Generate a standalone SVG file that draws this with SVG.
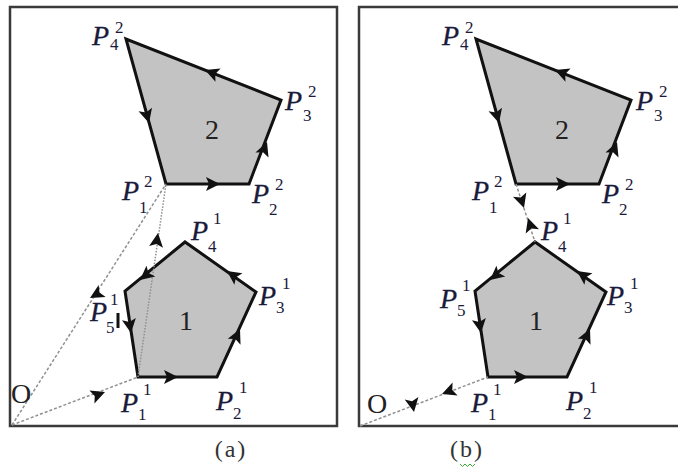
<svg xmlns="http://www.w3.org/2000/svg" width="678" height="468" viewBox="0 0 678 468">
<style>
.frame{fill:none;stroke:#3a3a3a;stroke-width:2.5}
.poly{fill:#c3c3c3;stroke:#111;stroke-width:3;stroke-linejoin:miter}
.dash{fill:none;stroke:#909090;stroke-width:1.5;stroke-dasharray:3 2}
.dot{fill:none;stroke:#909090;stroke-width:1.5;stroke-dasharray:1.5 1.5}
.ah{fill:#111}
.P{font-family:"Liberation Serif","Times New Roman",serif;font-style:italic;font-size:28px;fill:#1a1a3a;stroke:#1a1a3a;stroke-width:0.3}
.d{font-family:"Liberation Serif","Times New Roman",serif;font-size:17px;fill:#1a1a3a}
.n{font-family:"Liberation Serif","Times New Roman",serif;font-size:28px;fill:#222;text-anchor:middle}
.O{font-family:"Liberation Serif","Times New Roman",serif;font-size:28px;fill:#222}
.cap{font-family:"Liberation Serif","Times New Roman",serif;font-size:24px;letter-spacing:2px;fill:#333;text-anchor:middle}
</style>
<defs>
<path id="ah" class="ah" d="M0,0 L-14,-7 L-11,0 L-14,7 Z"/>
</defs>
<rect width="678" height="468" fill="#fff"/>

<g id="panel-a">
<rect class="frame" x="10" y="7" width="327" height="419"/>
<g id="a-poly2">
<polygon class="poly" points="166,184 249,184 281,100 126,39"/>
<text class="n" x="212" y="139">2</text>
</g>
<g id="a-poly1">
<polygon class="poly" points="138,377 217,377 256,292 185,242 125,291"/>
<text class="n" x="186" y="330">1</text>
</g>
<g id="a-connectors">
<path class="dash" d="M12,425 L166,184"/>
<path class="dash" d="M12,425 L138,377"/>
<path class="dot" d="M138,377 L166,184"/>
<use href="#ah" transform="translate(90,298) rotate(150)"/>
<use href="#ah" transform="translate(105,392) rotate(-21)"/>
<use href="#ah" transform="translate(158,233) rotate(-82)"/>
<use href="#ah" transform="translate(220,184) rotate(0)"/>
<use href="#ah" transform="translate(267,142) rotate(-69)"/>
<use href="#ah" transform="translate(205,70) rotate(201.5)"/>
<use href="#ah" transform="translate(149,123) rotate(74.6)"/>
<use href="#ah" transform="translate(178,377) rotate(0)"/>
<use href="#ah" transform="translate(240,329) rotate(-65.4)"/>
<use href="#ah" transform="translate(227,271) rotate(215.2)"/>
<use href="#ah" transform="translate(140,280) rotate(140.8)"/>
<use href="#ah" transform="translate(131,333) rotate(81.4)"/>
<path d="M118,313 L118,328" stroke="#111" stroke-width="3"/>
</g>
<g id="a-labels">
<text class="P" x="92" y="45">P</text><text class="d" x="110" y="50">4</text><text class="d" x="115" y="33">2</text>
<text class="P" x="285" y="110">P</text><text class="d" x="303" y="121">3</text><text class="d" x="308" y="97">2</text>
<text class="P" x="122" y="200">P</text><text class="d" x="139" y="213">1</text><text class="d" x="144" y="187">2</text>
<text class="P" x="252" y="203">P</text><text class="d" x="269" y="215">2</text><text class="d" x="275" y="190">2</text>
<text class="P" x="191" y="240">P</text><text class="d" x="208" y="252">4</text><text class="d" x="213" y="224">1</text>
<text class="P" x="259" y="305">P</text><text class="d" x="276" y="313">3</text><text class="d" x="282" y="289">1</text>
<text class="P" x="90" y="321">P</text><text class="d" x="106" y="333">5</text><text class="d" x="110" y="305">1</text>
<text class="P" x="121" y="412">P</text><text class="d" x="138" y="420">1</text><text class="d" x="143" y="395">1</text>
<text class="P" x="216" y="410">P</text><text class="d" x="233" y="419">2</text><text class="d" x="239" y="393">1</text>
<text class="O" x="11" y="403">O</text>
</g>
<text class="cap" x="231" y="457">(a)</text>
</g>

<g id="panel-b">
<rect class="frame" x="359" y="7" width="330" height="419"/>
<g id="b-poly2">
<polygon class="poly" points="516,184 599,184 631,100 476,39"/>
<text class="n" x="562" y="139">2</text>
</g>
<g id="b-poly1">
<polygon class="poly" points="488,377 567,377 606,292 535,242 475,291"/>
<text class="n" x="536" y="330">1</text>
</g>
<g id="b-connectors">
<path class="dash" d="M360,426 L488,377"/>
<path class="dash" d="M516,184 L535,242"/>
<use href="#ah" transform="translate(414,412) rotate(80)"/>
<use href="#ah" transform="translate(442,394) rotate(159)"/>
<use href="#ah" transform="translate(524,208) rotate(71.9)"/>
<use href="#ah" transform="translate(528,218) rotate(-108.1)"/>
<use href="#ah" transform="translate(570,184) rotate(0)"/>
<use href="#ah" transform="translate(617,142) rotate(-69)"/>
<use href="#ah" transform="translate(555,70) rotate(201.5)"/>
<use href="#ah" transform="translate(499,123) rotate(74.6)"/>
<use href="#ah" transform="translate(528,377) rotate(0)"/>
<use href="#ah" transform="translate(590,329) rotate(-65.4)"/>
<use href="#ah" transform="translate(577,271) rotate(215.2)"/>
<use href="#ah" transform="translate(490,280) rotate(140.8)"/>
<use href="#ah" transform="translate(481,333) rotate(81.4)"/>
</g>
<g id="b-labels">
<text class="P" x="442" y="45">P</text><text class="d" x="460" y="50">4</text><text class="d" x="465" y="33">2</text>
<text class="P" x="636" y="110">P</text><text class="d" x="654" y="121">3</text><text class="d" x="659" y="97">2</text>
<text class="P" x="472" y="200">P</text><text class="d" x="489" y="213">1</text><text class="d" x="494" y="187">2</text>
<text class="P" x="602" y="203">P</text><text class="d" x="619" y="215">2</text><text class="d" x="625" y="190">2</text>
<text class="P" x="541" y="240">P</text><text class="d" x="558" y="252">4</text><text class="d" x="563" y="224">1</text>
<text class="P" x="607" y="305">P</text><text class="d" x="624" y="313">3</text><text class="d" x="630" y="289">1</text>
<text class="P" x="440" y="308">P</text><text class="d" x="457" y="316">5</text><text class="d" x="462" y="291">1</text>
<text class="P" x="471" y="412">P</text><text class="d" x="488" y="420">1</text><text class="d" x="493" y="395">1</text>
<text class="P" x="566" y="410">P</text><text class="d" x="583" y="419">2</text><text class="d" x="589" y="393">1</text>
<text class="O" x="367" y="413">O</text>
</g>
<text class="cap" x="467" y="457">(b)</text>
<path d="M460,464 l2.5,2.5 l2.5,-2.5 l2.5,2.5 l2.5,-2.5 l2.5,2.5 l2.5,-2.5" fill="none" stroke="#3aaa35" stroke-width="1"/>
</g>
</svg>
